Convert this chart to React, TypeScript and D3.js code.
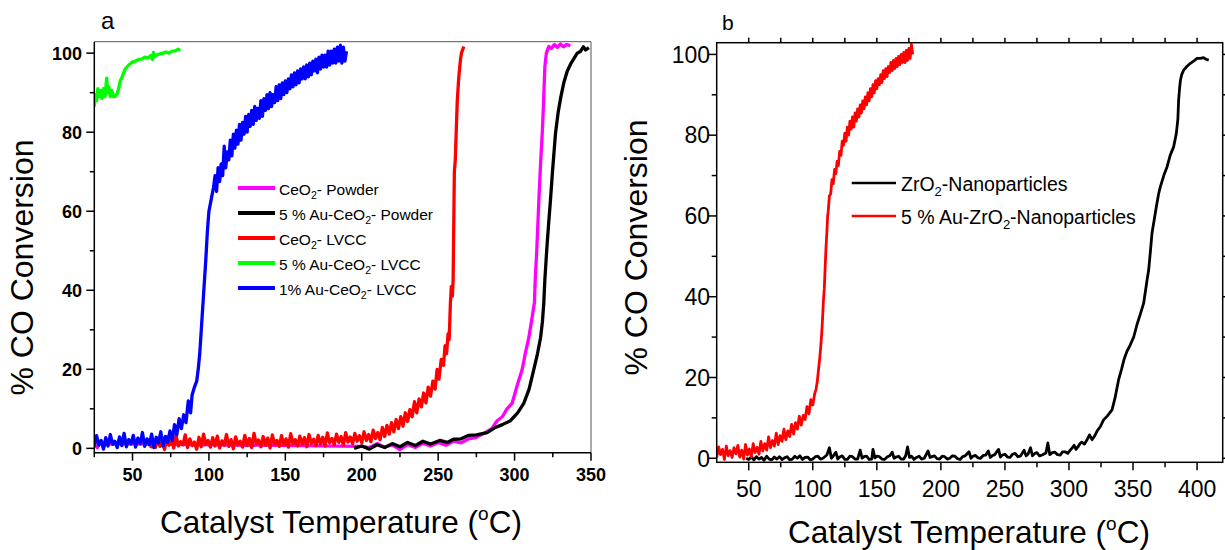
import React from "react";
import * as d3 from "d3";

type P = [number, number];

// ---------- Panel a data (temperature °C, % CO conversion) ----------
const ceo2Powder: P[] = [
  [25, 1], [27, 0.2], [29, 1.8], [31, 0.4], [33, 1.2], [200, 0.5], [205, 0.2], [210, 1.2], [215, 0.3], [220, 0.9],
  [225, -0.3], [230, 1], [235, 0.2], [240, 1.3], [245, 0.6], [250, 1.5], [255, 0.8], [260, 1.8], [265, 1.4],
  [270, 2.4], [275, 2.8], [280, 3.8], [285, 5], [288.6, 7], [292, 8], [295, 10], [298.4, 11.4], [301, 15],
  [305, 20], [307, 24], [309.3, 28], [311, 32], [313, 37], [313.5, 42.6], [314.5, 50], [315.9, 62.9],
  [317, 72], [318.1, 79.7], [319, 88], [319.8, 96.6], [320.8, 100], [322.4, 101.7], [324, 101.2], [326, 102.2],
  [328, 101.5], [330, 102.3], [332, 101.6], [334, 102.2], [336.5, 101.9],
];

const auCeo2Powder: P[] = [
  [195, 0], [200, 0.6], [205, -0.2], [210, 0.9], [215, 0.2], [220, 1.2], [225, 0.4], [230, 1.5], [235, 0.7],
  [240, 1.8], [245, 1.1], [251, 2], [256, 1.5], [260, 2.3], [265, 2.4], [270, 3.3], [275, 3.4], [282, 4],
  [287, 5.2], [292, 6], [297.3, 7], [302, 9], [306, 11.4], [309.5, 15], [312.6, 20], [315, 24], [317, 28],
  [318.2, 32], [319.1, 36.7], [319.8, 42.6], [321, 50], [322.3, 57], [323.5, 62.9], [324.8, 70], [326.8, 79.8],
  [328.5, 85], [330.3, 89], [332.2, 92.5], [334.5, 95.5], [337, 97.5], [341, 100], [343, 100.4], [345, 101.6],
  [346.5, 100.8], [348.6, 101.4],
];

const ceo2Lvcc: P[] = [
  [62, 0], [63.5, 1.8], [65, 0.2], [66.5, 2.6], [68, 0.5], [69.5, 1.5], [71, -0.3], [72.5, 2.9], [74, 0.8],
  [75.5, 2.1], [77, 0.1], [78.5, 3.2], [80, 0.6], [81.5, 1.7], [83, 0.9], [84.5, 3.4], [86, 0.2], [87.5, 2.4],
  [89, 0.7], [90.5, 1.6], [92, -0.2], [93.5, 2.8], [95, 0.4], [96.5, 3.6], [98, 1], [99.5, 2], [101, 0.3],
  [102.5, 2.7], [104, 0.6], [105.5, 3.1], [107, 0.1], [108.5, 1.9], [110, 0.8], [111.5, 3.5], [113, 0.5],
  [114.5, 2.2], [116, -0.1], [117.5, 2.9], [119, 0.9], [120.5, 1.8], [122, 0.3], [123.5, 3.3], [125, 0.7],
  [126.5, 2.5], [128, 0.2], [129.5, 3.8], [131, 1.1], [132.5, 2.1], [134, 0.4], [135.5, 3], [137, 0.8],
  [138.5, 2.6], [140, 0.1], [141.5, 3.4], [143, 1], [144.5, 2], [146, 0.5], [147.5, 3.2], [149, 0.9],
  [150.5, 2.4], [152, 0.3], [153.5, 3.7], [155, 1.2], [156.5, 2.2], [158, 0.6], [159.5, 3.1], [161, 1],
  [162.5, 2.7], [164, 0.4], [165.5, 3.5], [167, 1.3], [168.5, 2.3], [170, 0.7], [171.5, 3.3], [173, 1.1],
  [174.5, 2.8], [176, 0.6], [177.5, 3.9], [179, 1.4], [180.5, 2.5], [182, 0.9], [183.5, 3.6], [185, 1.5],
  [186.5, 3], [188, 0.8], [189.5, 4], [191, 1.6], [192.5, 2.9], [194, 1.2], [195.5, 3.8], [197, 1.8],
  [198.5, 3.2], [200, 1.4], [201.5, 4.2], [203, 2], [204.5, 3.5], [206, 1.7], [207.5, 4.6], [209, 2.5],
  [210.5, 4], [212, 2.2], [213.5, 5.3], [215, 3], [216.5, 5.8], [218, 3.6], [219.5, 6.5], [221, 4.2],
  [222.5, 7.3], [224, 5], [225.5, 8], [227, 5.6], [228.5, 9], [230, 6.8], [231.5, 9.8], [233, 8], [234.5, 11.8],
  [236, 9], [237.5, 12.5], [239, 10.5], [240.5, 14], [242, 11.5], [243.5, 15.5], [245, 13.2], [246.5, 17],
  [248, 15], [249.3, 20], [250.5, 17.5], [252, 22.5], [253.5, 21], [254.5, 26], [255.5, 24], [256.5, 29],
  [257.2, 27.5], [258, 36.7], [258.6, 41], [259.3, 38.5], [259.8, 42.6], [260, 50], [260.3, 60], [260.6, 70],
  [261.2, 73], [261.8, 80], [262.5, 88], [263.5, 94], [264.5, 98], [265.2, 100], [266.8, 101.7],
];

const auCeo2Lvcc5: P[] = [
  [25, 86.5], [25.8, 89.5], [26.5, 88], [27.3, 91], [28, 89], [29, 90.5], [30, 88.5], [31, 91], [32, 89],
  [33.1, 93.7], [33.8, 90], [34.5, 91.5], [35.5, 89], [36.5, 90.5], [37.5, 89], [38.6, 89], [40, 89.8],
  [41, 91.2], [42, 93], [43, 93.8], [44, 94.8], [45, 95.8], [46.5, 96.6], [48.4, 97.3], [50.6, 97.9],
  [52, 98], [54, 98.4], [56, 98.5], [58, 99], [60, 98.8], [62, 99.4], [63, 98.4], [63.7, 100.2], [64.5, 99.1],
  [66, 99.6], [68, 99.8], [70, 100], [72, 100.3], [74, 100], [76, 100.5], [78, 100.6], [80, 101], [81.2, 100.6],
];

const auCeo2Lvcc1: P[] = [
  [25, 0.5], [26.5, 3.2], [28, 0.8], [29.5, 2], [31, -0.2], [32.5, 2.7], [34, 0.6], [35.5, 3.5], [37, 1],
  [38.5, 1.8], [40, 0.2], [41.5, 2.9], [43, 0.7], [44.5, 3.8], [46, 0.4], [47.5, 2.2], [49, 1.1], [50.5, 3.3],
  [52, 0.3], [53.5, 2.6], [55, 1.2], [56.5, 4], [58, 0.5], [59.5, 2.4], [61, 0.9], [62.5, 3.6], [64, 0.2],
  [65.5, 2.8], [67, 1.4], [68.5, 4.2], [70, 0.6], [71.5, 3], [73, 1.5], [74.5, 4.4], [76, 2], [77.5, 6],
  [79, 3.5], [80.5, 7.5], [82, 5], [83.5, 8.5], [85, 6.5], [86.5, 12], [88, 9], [89, 13.5], [90.5, 15.5],
  [92, 17], [93, 20], [94, 24], [95, 30], [96, 36], [97, 42], [98, 48], [99, 55], [100, 60], [101.5, 63],
  [103, 66], [104, 69], [105, 65], [106, 71], [107, 67.5], [108, 72], [109, 69], [110, 76.5], [111, 71],
  [112, 75], [113, 73], [114, 78], [115, 74], [116, 79.5], [117, 76], [118, 80.5], [119, 77], [120, 82],
  [121, 78], [122, 82.5], [123, 79.5], [124, 84], [125, 80], [126, 84.5], [127, 81.5], [128, 85.5], [129, 82],
  [130, 86.5], [131, 83], [132, 86], [133, 83.5], [134, 88], [135, 84], [136, 88.5], [137, 85.5], [138, 89.5],
  [139, 86], [140, 90], [141, 86.5], [142, 89.5], [143, 87.5], [144, 91.5], [145, 88], [146, 92], [147, 88.5],
  [148, 92.5], [149, 89.5], [150, 93], [151, 90], [152, 93.5], [153, 91], [154, 94.5], [155, 91.5], [156, 95],
  [157, 92], [158, 95.5], [159, 92.5], [160, 96], [161, 93.5], [162, 96.5], [163, 93.5], [164, 97], [165, 94],
  [166, 97.5], [167, 94.5], [168, 98], [169, 95.5], [170, 98.5], [171, 95], [172, 99], [173, 96], [174, 99.5],
  [175, 96.5], [176, 99.5], [177, 96.5], [178, 100.5], [179, 97], [180, 100.5], [181, 97.5], [182, 101],
  [183, 97.5], [184, 101.5], [185, 98], [186, 102], [187, 97.5], [188, 101.5], [189, 98], [190, 100.5],
];

// ---------- Panel b data ----------
const zro2Np: P[] = [
  [48, 0], [50, -0.3], [52, 0.3], [54, -0.4], [56, 0.4], [58, -0.2], [60, 0.2], [62, -0.5], [64, 0.5],
  [66, -0.2], [68, -0.4], [70, 0.3], [72, -0.2], [74, 0.4], [76, -0.3], [78, 0.1], [80, 0.4], [82, -0.4],
  [84, -0.2], [86, 0.5], [88, 0], [90, 0.6], [92, -0.3], [94, 0.2], [96, 0.3], [98, -0.4], [100, -0.2],
  [102, 0.4], [104, 0.5], [106, -0.2], [108, 0], [111, 0.8], [113, 2.6], [114.5, 0], [116, 0.6], [118, 1.5],
  [119.5, -0.2], [121, 0.3], [123, 0.6], [125, -0.3], [127, -0.3], [129, 0.5], [131, 0.4], [133, -0.2],
  [135, -0.2], [137, 2], [138.5, 0], [140, 0.4], [142, 0.5], [144, -0.3], [146, -0.2], [147, 2.2], [148.5, 0.1],
  [150, 0.5], [152, 0.4], [154, -0.2], [156, -0.3], [158, 0.3], [160, 0.6], [162, 1.5], [163.5, 0], [165, 0.3],
  [167, 0.5], [169, -0.2], [171, -0.2], [172.5, 0.6], [174, 2.8], [175.5, 0.2], [177, 0.5], [179, -0.3],
  [181, 0.2], [183, 0.5], [185, -0.2], [187, 0], [190, 1.8], [191.5, 0.2], [193, 0.4], [195, 0.6], [197, -0.1],
  [199, -0.2], [201, 0.5], [203, 0.4], [205, -0.2], [207, 0], [209, 0.6], [211, 0.5], [213, -0.1], [215, -0.3],
  [217, 0.4], [219, 0.6], [222, 1.6], [223.5, 0], [225, 0.5], [227, 0.7], [229, 0.1], [231, 0], [233, 0.7],
  [235, 0.8], [237, 1.8], [238.5, 0.2], [240, 0.6], [242, 0.9], [245, 2.2], [246.5, 0.3], [248, 0.8],
  [250, 1], [252, 0.3], [254, 0.2], [256, 1], [258, 1.2], [260, 0.4], [262, 0.5], [265, 2], [266.5, 0.6],
  [268, 1], [270, 2.6], [271.5, 0.6], [273, 1.1], [275, 1.4], [277, 0.6], [279, 0.8], [282, 1.3], [283.5, 3.8],
  [285, 0.9], [287, 1.4], [289, 1.5], [291, 0.9], [293.2, 0.8], [295, 1.6], [297, 1.6], [299, 1.2], [301, 2],
  [302.5, 2.6], [304, 3.2], [305.5, 2.2], [307, 2.8], [308.5, 3.6], [310, 4], [312, 3.5], [314, 4.5],
  [316, 5.8], [318, 4.6], [320, 5.5], [322, 6.8], [324.4, 7.8], [327, 9.5], [330, 10.5], [333.6, 12],
  [336, 15], [338.7, 19.4], [341, 22], [343, 24.5], [345.3, 26.5], [347, 27.5], [350.5, 30], [353, 33],
  [356, 36], [358.3, 38.4], [360.9, 44], [362.2, 46.6], [363.5, 51], [364.8, 55.7], [366.5, 59], [368.2, 62.3],
  [370, 65.5], [371.3, 67.2], [374, 70], [376.6, 72.2], [379, 75], [381.7, 77.1], [383.8, 80.4], [385, 84],
  [385.6, 88.7], [386.3, 91.5], [387, 93.6], [388, 95], [389.5, 96.1], [392, 97], [394.8, 97.8], [398, 98.5],
  [400, 99], [402.6, 99], [405, 99.2], [407, 98.8], [409.1, 98.6],
];

const auZro2Np: P[] = [
  [25, 0.2], [26.5, 2.8], [28, 0.9], [29.5, 2.2], [31, -0.3], [32.5, 3], [34, 0.6], [35.5, 1.9], [37, 0.2],
  [38.5, 2.6], [40, 1.1], [41.5, 3.2], [43, 0.3], [44.5, 2], [46, -0.2], [47.5, 3.4], [49, 0.8], [50.5, 2.3],
  [52, 0.4], [53.5, 3.6], [55, 1.4], [56.5, 2.7], [58, 1], [59.5, 4.2], [61, 1.8], [62.5, 3.6], [64, 2],
  [65.5, 5.3], [67, 2.6], [68.5, 4.4], [70, 3], [71.5, 6.2], [73, 3.4], [74.5, 5.6], [76, 4.2], [77.5, 7.2],
  [79, 4.6], [80.5, 6.8], [82, 5.4], [83.5, 8.4], [85, 6], [86.5, 8.8], [88, 7.2], [89.5, 10.4], [91, 8.2],
  [92.5, 10.6], [94, 9.6], [95.5, 12.8], [97, 11], [98.5, 14.5], [100, 13.2], [101.5, 16], [102.5, 17],
  [103.5, 19], [104.5, 22], [105.5, 25], [106.3, 28], [107, 31], [107.7, 35], [108.3, 39], [109, 42],
  [109.5, 46], [110.3, 52], [111, 56], [111.6, 60], [112, 61], [113, 65], [114, 65.5], [115, 69], [116, 68],
  [117, 71.5], [118, 70.5], [119, 73.5], [120, 72.5], [121, 76], [122, 75], [123, 78.5], [124, 77.5],
  [125, 80.5], [126, 78.5], [127, 82], [128, 80], [129, 83.5], [130, 81.5], [131, 84.5], [132, 82],
  [133, 85.5], [134, 83.5], [135, 86.5], [136, 84.5], [137, 87.5], [138, 85.5], [139, 88.5], [140, 86.5],
  [141, 89.5], [142, 87.5], [143, 90.5], [144, 88.5], [145, 91.5], [146, 89.5], [147, 92.5], [148, 90.5],
  [149, 93.5], [150, 91.5], [151, 94], [152, 92.5], [153, 95], [154, 93], [155, 96], [156, 94], [157, 96.5],
  [158, 94.5], [159, 97], [160, 95.5], [161, 98], [162, 96], [163, 98.5], [164, 96.5], [165, 99], [166, 97],
  [167, 99.5], [168, 97.5], [169, 100], [170, 98], [171, 100.5], [172, 98], [173, 101], [174, 98.5],
  [175, 101.5], [176, 99], [177, 102.5], [178, 100],
];

// ---------- ticks & labels ----------
const xTicksA = [50, 100, 150, 200, 250, 300, 350];
const xMinorA = [25, 75, 125, 175, 225, 275, 325];
const xTicksB = [50, 100, 150, 200, 250, 300, 350, 400];
const xMinorB = [75, 125, 175, 225, 275, 325, 375];
const yTicks = [0, 20, 40, 60, 80, 100];
const yMinor = [10, 30, 50, 70, 90];

const legendA = [
  { pre: "CeO", sub: "2", post: "- Powder", color: "#ff00ff" },
  { pre: "5 % Au-CeO", sub: "2", post: "- Powder", color: "#000000" },
  { pre: "CeO", sub: "2", post: "- LVCC", color: "#ff0000" },
  { pre: "5 % Au-CeO", sub: "2", post: "- LVCC", color: "#00ff00" },
  { pre: "1% Au-CeO", sub: "2", post: "- LVCC", color: "#0000ff" },
];
const legendB = [
  { pre: "ZrO", sub: "2", post: "-Nanoparticles", color: "#000000" },
  { pre: "5 % Au-ZrO", sub: "2", post: "-Nanoparticles", color: "#ff0000" },
];

const FONT = "Arial, 'Liberation Sans', sans-serif";

// scales
const xA = d3.scaleLinear().domain([25, 350]).range([94.3, 591]);
const yA = d3.scaleLinear().domain([-1.1, 102.9]).range([452.7, 41.7]);
const xB = d3.scaleLinear().domain([25, 420]).range([716.7, 1222.7]);
const yB = d3.scaleLinear().domain([-1, 102.9]).range([462.3, 42.7]);

function linePath(data: P[], x: any, y: any) {
  return d3.line<P>().x((d) => x(d[0])).y((d) => y(d[1]))(data) || "";
}

function XTitle({ cx, y }: { cx: number; y: number }) {
  return (
    <text x={cx} y={y} textAnchor="middle" fontFamily={FONT} fontSize={31.5} fill="#000">
      Catalyst Temperature (
      <tspan fontSize={19} dy={-13}>o</tspan>
      <tspan dy={13}>C)</tspan>
    </text>
  );
}

function YTitle({ x, cy }: { x: number; cy: number }) {
  return (
    <text
      transform={`translate(${x},${cy}) rotate(-90)`}
      textAnchor="middle"
      fontFamily={FONT}
      fontSize={32}
      fill="#000"
    >
      % CO Conversion
    </text>
  );
}

export default function App() {
  const [x0A, x1A] = xA.range();
  const [y0A, y1A] = yA.range();
  const [x0B, x1B] = xB.range();
  const [y0B, y1B] = yB.range();

  const seriesA = [
    { data: ceo2Powder, color: "#ff00ff" },
    { data: auCeo2Powder, color: "#000000" },
    { data: ceo2Lvcc, color: "#ff0000" },
    { data: auCeo2Lvcc5, color: "#00ff00" },
    { data: auCeo2Lvcc1, color: "#0000ff" },
  ];
  const seriesB = [
    { data: zro2Np, color: "#000000" },
    { data: auZro2Np, color: "#ff0000" },
  ];

  return (
    <svg
      width={1225}
      height={550}
      style={{ position: "absolute", left: 0, top: 0, background: "#fff" }}
    >
      <defs>
        <clipPath id="clipA">
          <rect x={x0A} y={y1A} width={x1A - x0A} height={y0A - y1A} />
        </clipPath>
        <clipPath id="clipB">
          <rect x={x0B} y={y1B} width={x1B - x0B} height={y0B - y1B} />
        </clipPath>
      </defs>
      <rect x={0} y={0} width={1225} height={550} fill="#fff" />

      {/* ---------------- Panel a ---------------- */}
      <text x={101} y={28.5} fontFamily={FONT} fontSize={24} fill="#000">a</text>
      <g clipPath="url(#clipA)">
        {seriesA.map((s, i) => (
          <path
            key={i}
            d={linePath(s.data, xA, yA)}
            fill="none"
            stroke={s.color}
            strokeWidth={3.3}
            strokeLinejoin="round"
          />
        ))}
      </g>
      {/* frame */}
      <line x1={x0A} x2={x1A} y1={y1A} y2={y1A} stroke="#555" strokeWidth={1} />
      <line x1={x1A} x2={x1A} y1={y1A} y2={y0A} stroke="#555" strokeWidth={1} />
      <line x1={x0A} x2={x0A} y1={y1A} y2={y0A + 0.5} stroke="#000" strokeWidth={1.5} />
      <line x1={x0A} x2={x1A} y1={y0A} y2={y0A} stroke="#000" strokeWidth={1.5} />
      {xTicksA.map((t) => (
        <g key={"xa" + t}>
          <line x1={xA(t)} x2={xA(t)} y1={y0A} y2={y0A + 8} stroke="#000" strokeWidth={1.5} />
          <text x={xA(t)} y={480.5} textAnchor="middle" fontFamily={FONT} fontWeight="bold" fontSize={18} fill="#000">
            {t}
          </text>
        </g>
      ))}
      {xMinorA.map((t) => (
        <line key={"xma" + t} x1={xA(t)} x2={xA(t)} y1={y0A} y2={y0A + 4.5} stroke="#000" strokeWidth={1.5} />
      ))}
      {yTicks.map((t) => (
        <g key={"ya" + t}>
          <line x1={x0A - 8} x2={x0A} y1={yA(t)} y2={yA(t)} stroke="#000" strokeWidth={1.5} />
          <text x={82} y={yA(t) + 6.5} textAnchor="end" fontFamily={FONT} fontWeight="bold" fontSize={18} fill="#000">
            {t}
          </text>
        </g>
      ))}
      {yMinor.map((t) => (
        <line key={"yma" + t} x1={x0A - 4.5} x2={x0A} y1={yA(t)} y2={yA(t)} stroke="#000" strokeWidth={1.5} />
      ))}
      {legendA.map((l, i) => {
        const cy = 188 + i * 25;
        return (
          <g key={"la" + i}>
            <line x1={238} x2={275} y1={cy} y2={cy} stroke={l.color} strokeWidth={4} />
            <text x={279} y={cy + 6.5} fontFamily={FONT} fontSize={15.5} fill="#000">
              {l.pre}
              <tspan fontSize={10.5} dy={4}>{l.sub}</tspan>
              <tspan dy={-4}>{l.post}</tspan>
            </text>
          </g>
        );
      })}
      <YTitle x={33} cy={267.5} />
      <XTitle cx={341} y={533} />

      {/* ---------------- Panel b ---------------- */}
      <text x={722} y={30} fontFamily={FONT} fontSize={21} fill="#000">b</text>
      <g clipPath="url(#clipB)">
        {seriesB.map((s, i) => (
          <path
            key={i}
            d={linePath(s.data, xB, yB)}
            fill="none"
            stroke={s.color}
            strokeWidth={2.8}
            strokeLinejoin="round"
          />
        ))}
      </g>
      <rect x={x0B} y={y1B} width={x1B - x0B} height={y0B - y1B} fill="none" stroke="#000" strokeWidth={1.5} />
      {xTicksB.map((t) => (
        <g key={"xb" + t}>
          <line x1={xB(t)} x2={xB(t)} y1={y0B} y2={y0B + 8} stroke="#000" strokeWidth={1.5} />
          <line x1={xB(t)} x2={xB(t)} y1={y1B} y2={y1B - 5} stroke="#000" strokeWidth={1.5} />
          <text x={xB(t)} y={496.5} textAnchor="middle" fontFamily={FONT} fontSize={23} fill="#000">
            {t}
          </text>
        </g>
      ))}
      {xMinorB.map((t) => (
        <g key={"xmb" + t}>
          <line x1={xB(t)} x2={xB(t)} y1={y0B} y2={y0B + 5} stroke="#000" strokeWidth={1.5} />
          <line x1={xB(t)} x2={xB(t)} y1={y1B} y2={y1B - 5} stroke="#000" strokeWidth={1.5} />
        </g>
      ))}
      {yTicks.map((t) => (
        <g key={"yb" + t}>
          <line x1={x0B - 8} x2={x0B} y1={yB(t)} y2={yB(t)} stroke="#000" strokeWidth={1.5} />
          <line x1={x1B} x2={x1B + 5} y1={yB(t)} y2={yB(t)} stroke="#000" strokeWidth={1.5} />
          <text x={710} y={yB(t) + 8.3} textAnchor="end" fontFamily={FONT} fontSize={23} fill="#000">
            {t}
          </text>
        </g>
      ))}
      {yMinor.map((t) => (
        <g key={"ymb" + t}>
          <line x1={x0B - 5} x2={x0B} y1={yB(t)} y2={yB(t)} stroke="#000" strokeWidth={1.5} />
          <line x1={x1B} x2={x1B + 5} y1={yB(t)} y2={yB(t)} stroke="#000" strokeWidth={1.5} />
        </g>
      ))}
      {legendB.map((l, i) => {
        const cy = 183 + i * 33;
        return (
          <g key={"lb" + i}>
            <line x1={851.7} x2={896} y1={cy} y2={cy} stroke={l.color} strokeWidth={2.5} />
            <text x={901} y={cy + 8} fontFamily={FONT} fontSize={19.5} fill="#000">
              {l.pre}
              <tspan fontSize={13} dy={5}>{l.sub}</tspan>
              <tspan dy={-5}>{l.post}</tspan>
            </text>
          </g>
        );
      })}
      <YTitle x={647} cy={247.5} />
      <XTitle cx={969} y={543} />
    </svg>
  );
}
